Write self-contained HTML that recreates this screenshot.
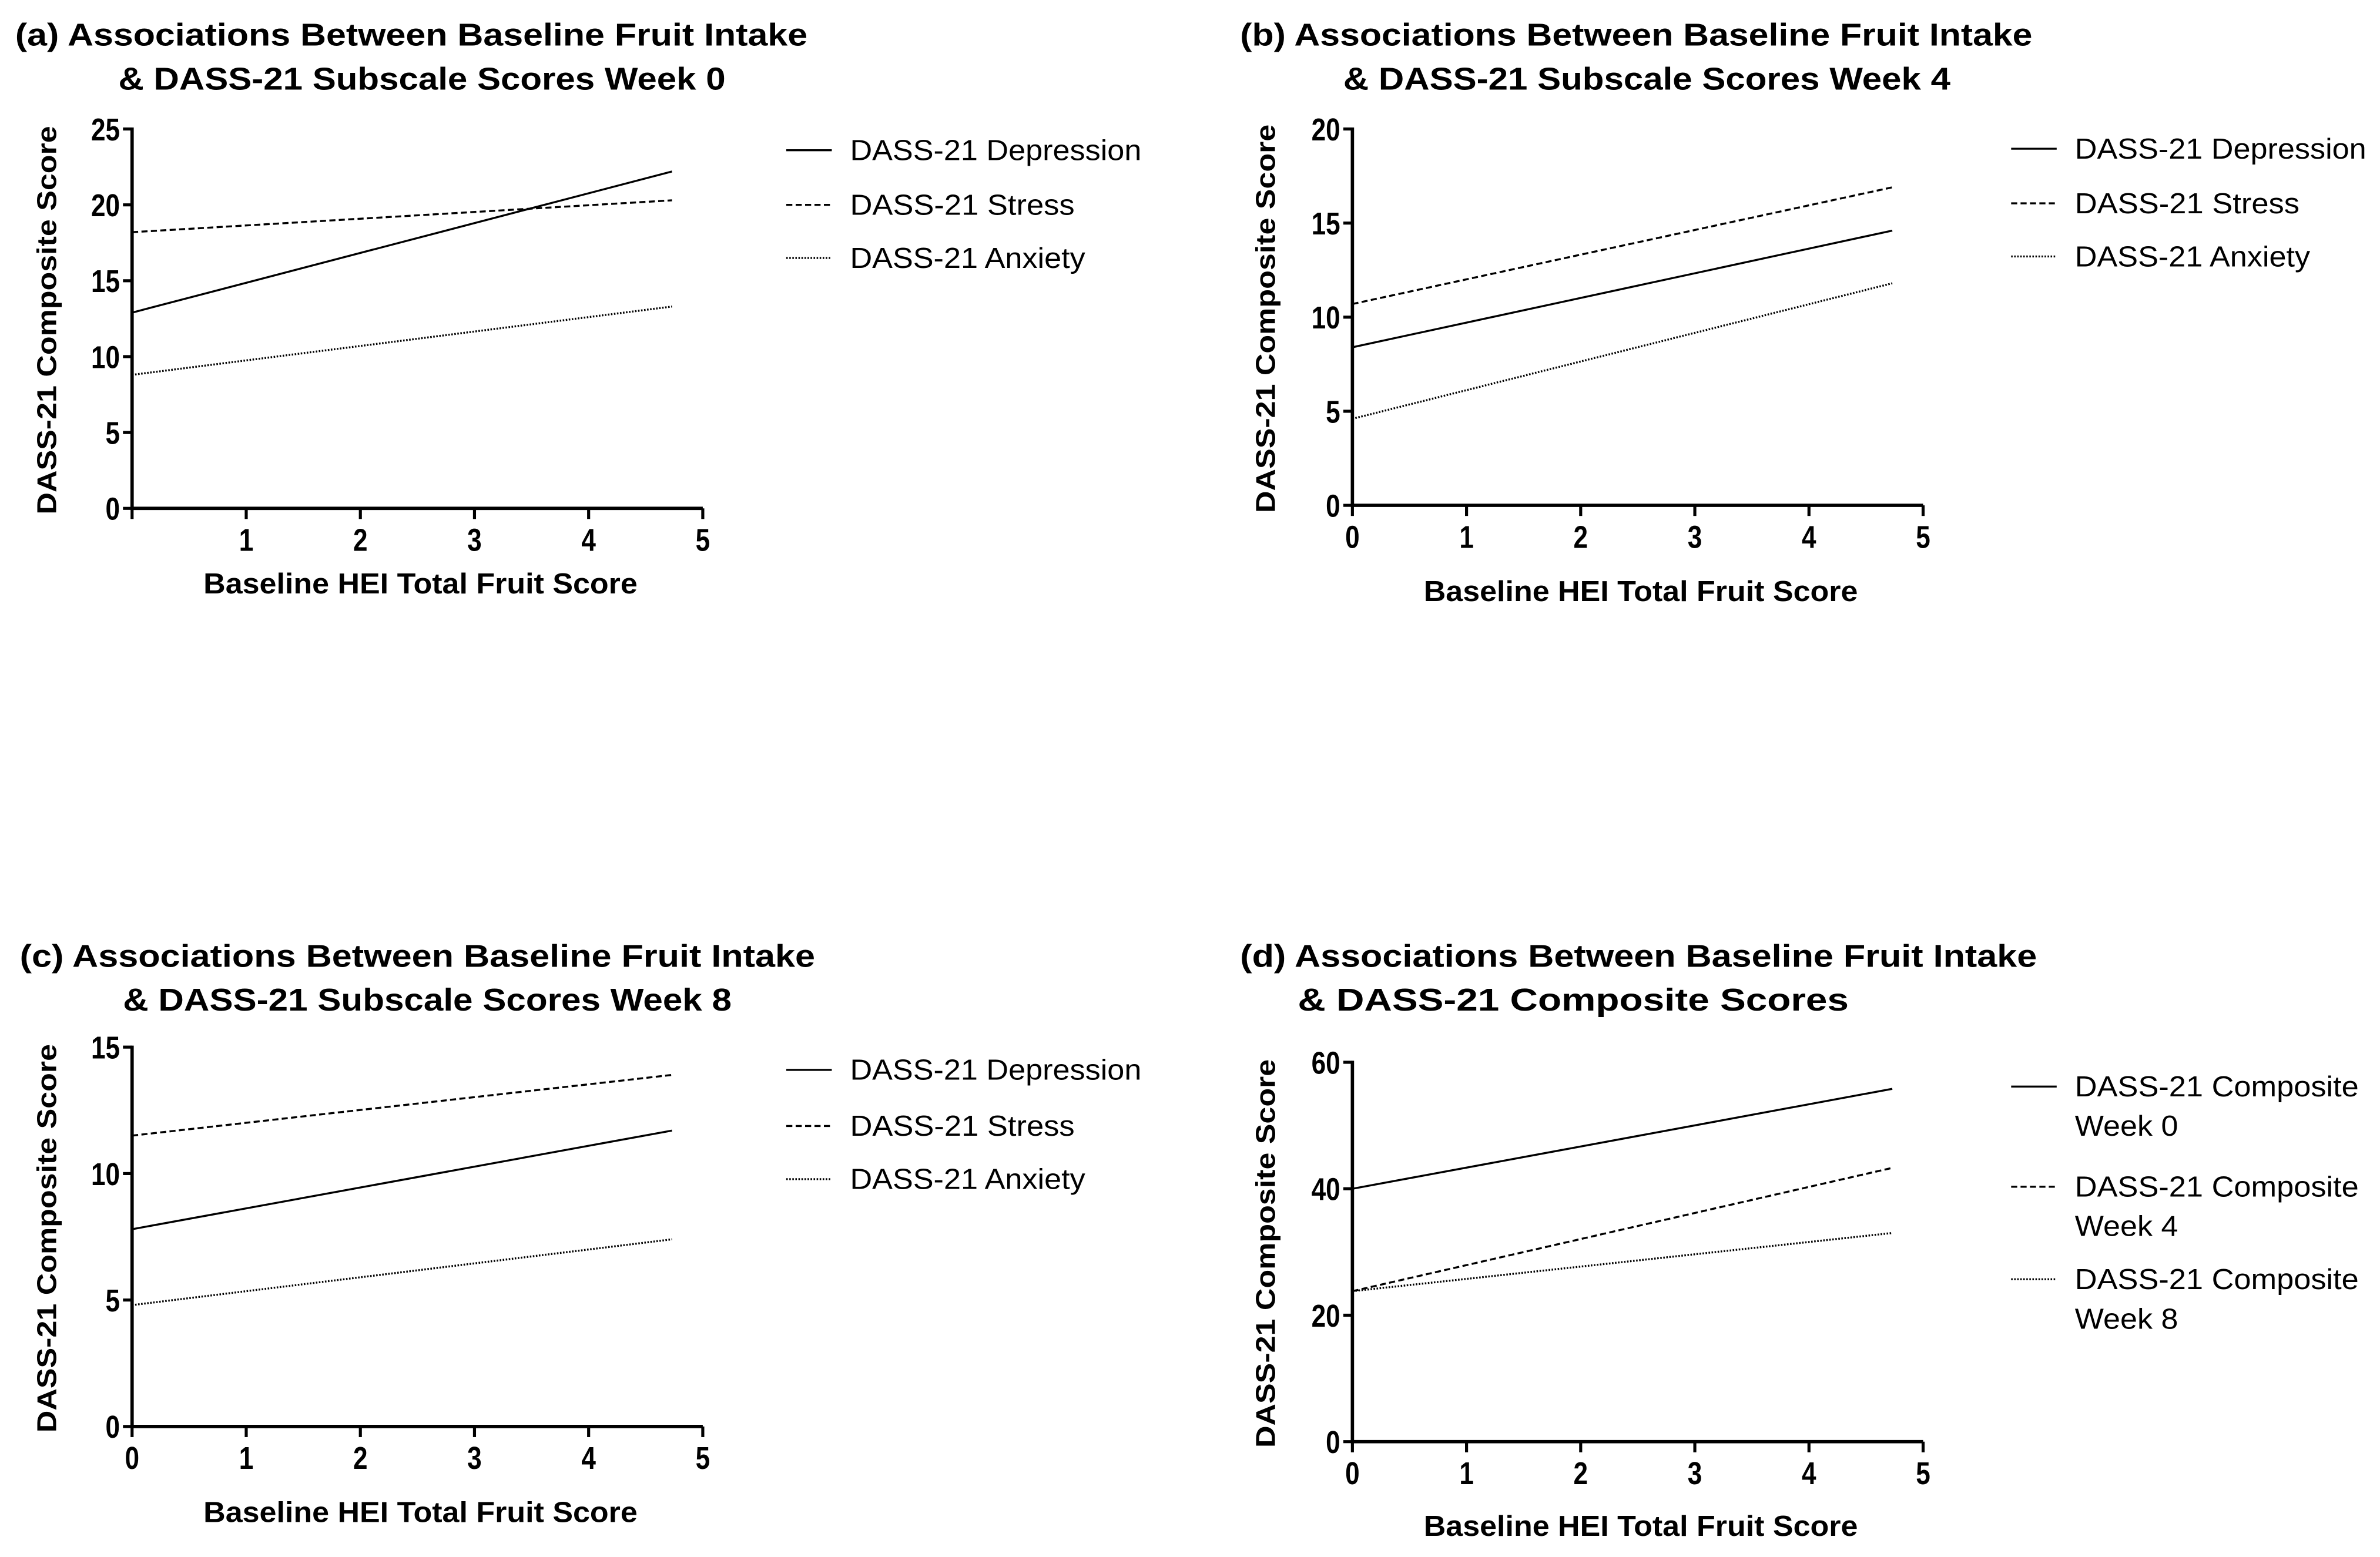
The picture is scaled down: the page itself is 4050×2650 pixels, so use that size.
<!DOCTYPE html>
<html><head><meta charset="utf-8"><style>
html,body{margin:0;padding:0;background:#fff}
svg{display:block}
</style></head><body>
<svg id="fig" xmlns="http://www.w3.org/2000/svg" width="4050" height="2650" viewBox="0 0 1568 1026">
<rect width="1568" height="1026" fill="#fff"/>
</svg>
<script>
// Panel data
const xStart = [0, 0, 0, 0];
const xEnd = [4.73, 4.73, 4.73, 4.73];
const aSeriesNames = ["DASS-21 Depression", "DASS-21 Stress", "DASS-21 Anxiety"];
const aStart = [12.9, 18.2, 8.8];
const aEnd = [22.2, 20.3, 13.3];
const bStart = [8.4, 10.7, 4.6];
const bEnd = [14.6, 16.9, 11.8];
const cStart = [7.8, 11.5, 4.8];
const cEnd = [11.7, 13.9, 7.4];
const dSeriesNames = ["DASS-21 Composite|Week 0", "DASS-21 Composite|Week 4", "DASS-21 Composite|Week 8"];
const dStart = [40, 23.8, 23.8];
const dEnd = [55.8, 43.3, 33.0];
const aYTicks = [0, 5, 10, 15, 20, 25];
const bYTicks = [0, 5, 10, 15, 20];
const cYTicks = [0, 5, 10, 15];
const dYTicks = [0, 20, 40, 60];
const xTicksFull = [0, 1, 2, 3, 4, 5];
const xTicksNoZero = [1, 2, 3, 4, 5];

const NS = "http://www.w3.org/2000/svg";
const svg = document.getElementById('fig');
const FONT = '"Liberation Sans", Arial, sans-serif';
const dashes = ["", "4,2.2", "1,1"];

function mk(tag, attrs, parent){
  const e = document.createElementNS(NS, tag);
  for (const k in attrs) e.setAttribute(k, attrs[k]);
  (parent||svg).appendChild(e);
  return e;
}
function txt(parent, s, x, y, size, weight, anchor, len){
  const t = mk('text', {x:x, y:y, 'font-size':size, 'font-weight':weight, 'text-anchor':anchor, 'font-family':FONT, fill:'#000'}, parent);
  if (len){ t.setAttribute('textLength', len); t.setAttribute('lengthAdjust','spacingAndGlyphs'); }
  t.textContent = s;
  return t;
}

function panel(p){
  const g = mk('g', {});
  
  
  const sx = v => p.x0 + (v - 0) * (p.x5 - p.x0) / 5;
  const sy = v => p.yb - v * (p.yb - p.yt) / p.ymax;
  const t1 = txt(g, p.t1, p.t1x, p.ty, 21, 'bold', 'start', p.t1w);
  
  
  const t2 = txt(g, p.t2, p.t2x, p.ty + 29, 21, 'bold', 'start', p.t2w);
  
  
  const ax = mk('path', {d:`M${p.x0},${p.yt-1} V${p.yb} H${p.x5}`, stroke:'#000', 'stroke-width':2.2, fill:'none'}, g);
  
  
  p.yTicks.forEach(v => {
    const y = sy(v);
    const tk = mk('line', {x1:p.x0-6, x2:p.x0, y1:y, y2:y, stroke:'#000', 'stroke-width':2}, g);
    
    
    const l = txt(g, String(v), p.x0-8, y+7.5, 21, 'bold', 'end', String(v).length*9.5);
    
    
  });
  xTicksFull.forEach(v => {
    const x = sx(v);
    const tk = mk('line', {x1:x, x2:x, y1:p.yb, y2:p.yb+7, stroke:'#000', 'stroke-width':2}, g);
    
    
  });
  p.xTicks.forEach(v => {
    const l = txt(g, String(v), sx(v), p.yb+28, 21, 'bold', 'middle', 9.5);
    
    
  });
  const xt = txt(g, 'Baseline HEI Total Fruit Score', (p.x0+p.x5)/2 + 2, p.xty, 19, 'bold', 'middle', 286);
  
  
  const yc = (p.yt + p.yb)/2 + 1;
  const yt = txt(g, 'DASS-21 Composite Score', 0, 0, 18, 'bold', 'middle', 256);
  yt.setAttribute('transform', `translate(${p.ylx},${yc}) rotate(-90)`);
  
  
  p.starts.forEach((s, i) => {
    const ln = mk('line', {x1:sx(xStart[i]), y1:sy(s), x2:sx(xEnd[i]), y2:sy(p.ends[i]), stroke:'#000', 'stroke-width':1.3}, g);
    if (dashes[i]) ln.setAttribute('stroke-dasharray', dashes[i]);
    
    
  });
  p.names.forEach((n, i) => {
    const parts = n.split('|');
    const y = p.legY[i];
    const lg = mk('g', {}, g);
    
    
    const sw = mk('line', {x1:p.legX, x2:p.legX+30, y1:y, y2:y, stroke:'#000', 'stroke-width':1.3}, lg);
    if (dashes[i]) sw.setAttribute('stroke-dasharray', dashes[i]);
    parts.forEach((s, j) => {
      const w = s === 'DASS-21 Depression' ? 192 : s === 'DASS-21 Stress' ? 148 : s === 'DASS-21 Anxiety' ? 155 : s.startsWith('DASS') ? 187 : 68;
      txt(lg, s, p.legX+42, y + 6.5 + j*26, 19, 'normal', 'start', w);
    });
  });
}

panel({id:'panel-a', x0:87, x5:463, yt:85, yb:335, ymax:25, yTicks:aYTicks, xTicks:xTicksNoZero,
  t1:'(a) Associations Between Baseline Fruit Intake', t1x:10, t1w:522,
  t2:'& DASS-21 Subscale Scores Week 0', t2x:78, t2w:400, ty:30, xty:391, ylx:37,
  starts:aStart, ends:aEnd, names:aSeriesNames, legX:518, legY:[99,135,170]});
panel({id:'panel-b', x0:891, x5:1267, yt:85, yb:333, ymax:20, yTicks:bYTicks, xTicks:xTicksFull,
  t1:'(b) Associations Between Baseline Fruit Intake', t1x:817, t1w:522,
  t2:'& DASS-21 Subscale Scores Week 4', t2x:885, t2w:400, ty:30, xty:396, ylx:840,
  starts:bStart, ends:bEnd, names:aSeriesNames, legX:1325, legY:[98,134,169]});
panel({id:'panel-c', x0:87, x5:463, yt:690, yb:940, ymax:15, yTicks:cYTicks, xTicks:xTicksFull,
  t1:'(c) Associations Between Baseline Fruit Intake', t1x:13, t1w:524,
  t2:'& DASS-21 Subscale Scores Week 8', t2x:81, t2w:401, ty:637, xty:1003, ylx:37,
  starts:cStart, ends:cEnd, names:aSeriesNames, legX:518, legY:[705,742,777]});
panel({id:'panel-d', x0:891, x5:1267, yt:700, yb:950, ymax:60, yTicks:dYTicks, xTicks:xTicksFull,
  t1:'(d) Associations Between Baseline Fruit Intake', t1x:817, t1w:525,
  t2:'& DASS-21 Composite Scores', t2x:855, t2w:363, ty:637, xty:1012, ylx:840,
  starts:dStart, ends:dEnd, names:dSeriesNames, legX:1325, legY:[716,782,843]});
</script>
</body></html>
